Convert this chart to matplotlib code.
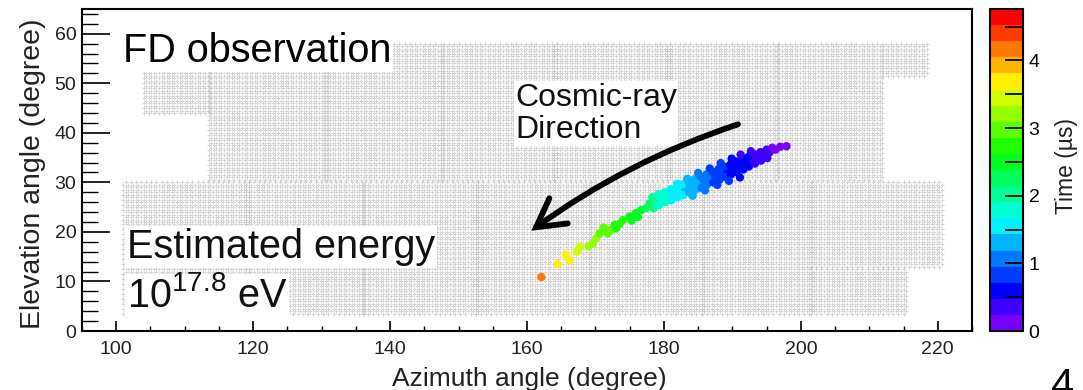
import numpy as np
import matplotlib
matplotlib.use('Agg')
import matplotlib.pyplot as plt
from matplotlib.colors import ListedColormap, BoundaryNorm, hsv_to_rgb
from matplotlib.patches import FancyArrowPatch
from matplotlib.ticker import MultipleLocator

# ---------------- data ----------------
# camera fields of view (degrees)
cam_az_lo = [101.0, 119.0, 136.0, 152.5, 169.0, 185.5, 201.5, 201.5,
             104.0, 113.5, 130.5, 147.5, 164.0, 180.5, 196.5, 212.0]
cam_az_hi = [119.5, 136.5, 153.0, 169.5, 186.0, 202.0, 221.0, 215.5,
             114.0, 131.0, 148.0, 164.5, 181.0, 197.0, 212.0, 218.5]
cam_el_lo = [3.5, 3.5, 3.5, 3.5, 3.5, 3.5, 13.0, 3.5,
             44.0, 30.5, 30.5, 30.5, 30.5, 30.5, 30.5, 51.5]
cam_el_hi = [30.5, 30.5, 30.5, 30.5, 30.5, 30.5, 30.5, 13.0,
             54.0, 58.5, 58.5, 58.5, 58.5, 58.5, 58.5, 58.5]
pix_daz = 0.75   # PMT pitch in azimuth
pix_del = 0.5    # PMT row pitch in elevation

# shower track: azimuth, elevation, time (us)
track_az = [162.1, 164.5, 165.7, 166.2, 167.3, 167.7, 169.6, 170.1, 170.6, 171.8, 172.3, 173.0, 172.8, 173.5,
            174.0, 175.0, 175.9, 176.7, 177.4,
            177.9, 178.8, 179.6, 180.5, 181.4, 182.3, 183.1, 184.0, 184.9, 185.8, 186.6, 187.5, 188.4, 189.3,
            190.1, 191.0, 191.9, 192.8, 193.6, 194.5, 195.4, 196.3, 197.0, 197.9,
            178.3, 179.2, 180.1, 181.0, 181.8, 182.7, 183.6, 184.4, 185.3, 186.2, 187.1, 188.0, 188.8, 189.7,
            190.6, 191.4, 192.3, 193.2, 194.1, 195.0, 195.8,
            178.5, 179.3, 180.2, 181.1, 182.0, 182.8, 183.7, 184.6, 185.5, 186.3, 187.2, 188.1, 189.0, 189.8,
            190.7, 191.6, 192.4, 193.3, 194.2, 195.1,
            181.9, 183.4, 185.0, 186.7, 188.3, 189.9, 191.2, 192.7, 184.2, 186.0, 187.8, 189.5, 191.1,
            175.3, 176.2, 171.2, 169.0]
track_el = [10.9, 13.5, 15.4, 14.2, 16.0, 17.0, 17.6, 18.7, 19.7, 19.7, 20.4, 20.7, 21.4, 21.6,
            22.4, 23.1, 23.8, 24.4, 24.8,
            25.7, 26.2, 26.7, 27.2, 27.7, 28.3, 28.8, 29.3, 29.8, 30.4, 30.9, 31.4, 31.9, 32.4,
            32.9, 33.4, 33.9, 34.5, 35.0, 35.5, 36.0, 36.6, 37.2, 37.3,
            27.0, 27.6, 28.0, 28.6, 29.0, 29.6, 30.1, 30.6, 31.2, 31.6, 32.1, 32.7, 33.2, 33.6,
            34.2, 34.7, 35.1, 35.7, 36.1, 36.6, 37.0,
            24.8, 25.4, 26.0, 26.4, 27.0, 27.4, 28.0, 28.5, 28.9, 29.6, 30.0, 30.5, 31.1, 31.6,
            32.0, 32.6, 33.2, 33.8, 34.4, 34.9,
            29.7, 30.7, 31.9, 32.8, 33.9, 34.8, 35.6, 36.3, 27.3, 28.4, 29.5, 30.3, 31.0,
            22.3, 23.0, 20.9, 17.1]
track_t = [4.2, 3.75, 3.6, 3.6, 3.45, 3.4, 3.15, 3.1, 3.05, 2.95, 2.9, 2.85, 2.8, 2.75,
           2.7, 2.6, 2.5, 2.4, 2.3,
           2.15, 2.0, 1.85, 1.7, 1.6, 1.5, 1.4, 1.3, 1.2, 1.1, 1.0, 0.9, 0.8, 0.7,
           0.65, 0.6, 0.5, 0.45, 0.4, 0.3, 0.25, 0.15, 0.1, 0.05,
           2.0, 1.85, 1.75, 1.6, 1.55, 1.45, 1.35, 1.25, 1.15, 1.05, 0.95, 0.85, 0.75, 0.7,
           0.6, 0.55, 0.5, 0.4, 0.35, 0.3, 0.2,
           2.05, 1.9, 1.75, 1.65, 1.55, 1.45, 1.35, 1.25, 1.15, 1.05, 0.95, 0.85, 0.75, 0.7,
           0.6, 0.55, 0.5, 0.4, 0.35, 0.3,
           1.5, 1.3, 1.1, 0.9, 0.75, 0.6, 0.45, 0.35, 1.35, 1.1, 0.9, 0.75, 0.65,
           2.55, 2.45, 2.9, 3.3]

# arrow (cosmic-ray direction), degrees
arrow_start = (191.2, 41.9)
arrow_end = (160.3, 19.9)

time_max = 4.76
n_levels = 20
x_range = (95, 225)
y_range = (0, 65)
x_ticks = [100, 120, 140, 160, 180, 200, 220]
y_ticks = [0, 10, 20, 30, 40, 50, 60]
cbar_ticks = [0, 1, 2, 3, 4]

title_text = 'FD observation'
energy_text = 'Estimated energy'
energy_value = r'$\mathregular{10^{17.8}}$ eV'
arrow_text = 'Cosmic-ray\nDirection'
x_label = 'Azimuth angle (degree)'
y_label = 'Elevation angle (degree)'
cbar_label = 'Time (\u00b5s)'
page_number = '4'

# ---------------- style ----------------
plt.rcParams['font.family'] = ['Liberation Sans', 'DejaVu Sans']
plt.rcParams['mathtext.fontset'] = 'custom'
plt.rcParams['mathtext.rm'] = 'Liberation Sans'
plt.rcParams['mathtext.it'] = 'Liberation Sans:italic'

W, H = 1083, 390
fig = plt.figure(figsize=(W / 100, H / 100), dpi=100)

def fx(px):
    return px / W

def fy(py):
    return 1 - py / H

ax = fig.add_axes([fx(82), fy(331), fx(972) - fx(82), fy(9) - fy(331)])
cax = fig.add_axes([fx(990), fy(331), fx(1023) - fx(990), fy(9) - fy(331)])

# camera pixels
for a0, a1, e0, e1 in zip(cam_az_lo, cam_az_hi, cam_el_lo, cam_el_hi):
    rows = np.arange(e0, e1, pix_del)
    pa, pe = [], []
    for i, e in enumerate(rows):
        off = 0.0 if i % 2 == 0 else pix_daz / 2
        cols = np.arange(a0 + off, a1, pix_daz)
        pa.extend(cols)
        pe.extend([e] * len(cols))
    ax.scatter(pa, pe, marker='+', s=10, linewidths=0.75, color='#c4c4c4', alpha=0.7, zorder=1)

# colour palette: discrete rainbow violet -> red
hues = np.linspace(0.745, 0.0, n_levels)
colors = hsv_to_rgb(np.column_stack([hues, np.ones(n_levels), np.ones(n_levels)]))
cmap = ListedColormap(colors)
bounds = np.linspace(0, time_max, n_levels + 1)
norm = BoundaryNorm(bounds, cmap.N)

sc = ax.scatter(track_az, track_el, c=track_t, cmap=cmap, norm=norm, s=36,
                edgecolors='none', zorder=3)

ax.set_xlim(*x_range)
ax.set_ylim(*y_range)
ax.set_xticks(x_ticks)
ax.set_yticks(y_ticks)
ax.xaxis.set_minor_locator(MultipleLocator(5))
ax.yaxis.set_minor_locator(MultipleLocator(2))
ax.tick_params(axis='x', which='major', direction='in', length=7.2, width=1.2, labelsize=14, pad=7, color='black')
ax.tick_params(axis='x', which='minor', direction='in', length=3.6, width=1.0)
ax.tick_params(axis='y', which='major', direction='in', length=20, width=1.2, labelsize=14, pad=4)
ax.tick_params(axis='y', which='minor', direction='in', length=11.5, width=1.0)
for lab in ax.get_xticklabels() + ax.get_yticklabels():
    lab.set_color('#222222')
for sp in ax.spines.values():
    sp.set_linewidth(1.5)

# arrow
arr = FancyArrowPatch(arrow_start, arrow_end, connectionstyle='arc3,rad=0.08',
                      arrowstyle='->,head_length=0.5,head_width=0.28', mutation_scale=40,
                      lw=4.2, color='black', zorder=4, capstyle='round', joinstyle='miter')
ax.add_patch(arr)

# colour bar
cb = fig.colorbar(sc, cax=cax, ticks=cbar_ticks, spacing='proportional')
cax.set_ylim(0, time_max)
cax.yaxis.set_minor_locator(MultipleLocator(0.5))
cax.tick_params(which='both', direction='in', length=13, width=1.3, right=True, left=False,
                labelsize=14, pad=4, color='black')
cb.outline.set_linewidth(1.5)

# texts (white boxes over the camera pixels, below track and arrow)
box = dict(facecolor='white', edgecolor='none', pad=1)
tf = fig.transFigure
ax.text(fx(123), fy(62), title_text, fontsize=28.5, va='baseline', ha='left', bbox=box,
        transform=tf, zorder=2)
ax.text(fx(127), fy(258), energy_text, fontsize=28.5, va='baseline', ha='left', color='#111111',
        bbox=box, transform=tf, zorder=2)
ax.text(fx(127), fy(307), energy_value, fontsize=28.5, va='baseline', ha='left', color='#111111',
        bbox=box, transform=tf, zorder=2)
ax.text(fx(515), fy(138), arrow_text, fontsize=23, va='baseline', ha='left', linespacing=1.1,
        color='#111111', bbox=box, transform=tf, zorder=2)
fig.text(fx(529), fy(386), x_label, fontsize=19, ha='center', va='baseline', color='#222222')
fig.text(fx(33), fy(174), y_label, fontsize=20.5, ha='center', va='center', rotation=90, color='#222222')
fig.text(fx(1066), fy(166), cbar_label, fontsize=16.5, ha='center', va='center', rotation=90, color='#222222')
fig.text(fx(1063), fy(367), page_number, fontsize=30, ha='center', va='top', color='black')

fig.savefig('out.png', dpi=100)
